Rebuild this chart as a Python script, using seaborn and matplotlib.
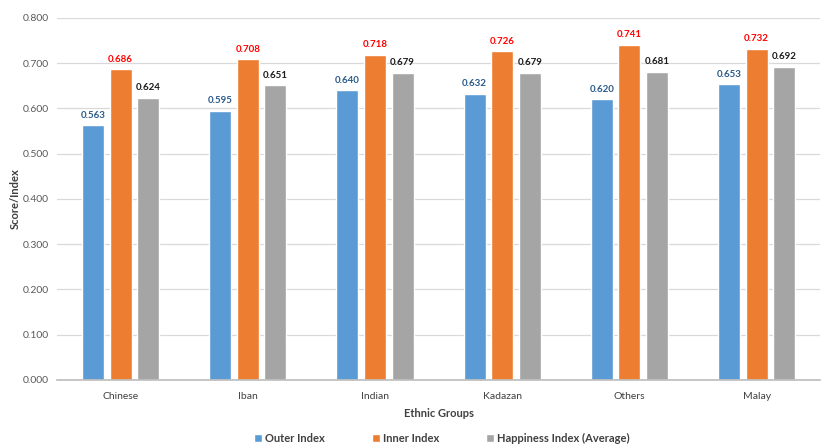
import matplotlib
matplotlib.use("Agg")
import matplotlib.pyplot as plt
import seaborn as sns
import pandas as pd

groups = ["Chinese", "Iban", "Indian", "Kadazan", "Others", "Malay"]
outer = [0.563, 0.595, 0.640, 0.632, 0.620, 0.653]
inner = [0.686, 0.708, 0.718, 0.726, 0.741, 0.732]
happy = [0.624, 0.651, 0.679, 0.679, 0.681, 0.692]
series = ["Outer Index", "Inner Index", "Happiness Index (Average)"]
colors = ["#5B9BD5", "#ED7D31", "#A5A5A5"]
label_colors = ["#2A5A8A", "#FF0000", "#1A1A1A"]
yticks = [0.0, 0.1, 0.2, 0.3, 0.4, 0.5, 0.6, 0.7, 0.8]

rows = []
for s, vals in zip(series, [outer, inner, happy]):
    for g, v in zip(groups, vals):
        rows.append({"Ethnic Groups": g, "Series": s, "Value": v})
df = pd.DataFrame(rows)

sns.set_theme(style="white")
plt.rcParams["font.family"] = ["Lato", "DejaVu Sans"]

fig = plt.figure(figsize=(8.26, 4.46), dpi=100)
ax = fig.add_axes([0.069, 0.148, 0.924, 0.812])
sns.barplot(data=df, x="Ethnic Groups", y="Value", hue="Series",
            palette=colors, width=0.65, gap=0.2, ax=ax, legend=True,
            saturation=1)

for cont, lc in zip(ax.containers, label_colors):
    ax.bar_label(cont, fmt="%.3f", padding=4, fontsize=7, fontweight="bold", color=lc)

ax.set_ylim(0, 0.8)
ax.set_yticks(yticks)
ax.set_yticklabels([f"{t:.3f}" for t in yticks], fontsize=7.5, color="#595959")
ax.tick_params(axis="x", labelsize=7.5, labelcolor="#404040", length=0, pad=9)
ax.tick_params(axis="y", length=0, pad=6)
ax.yaxis.grid(True, color="#D9D9D9", linewidth=0.9)
ax.set_axisbelow(True)
for sp in ["top", "right", "left"]:
    ax.spines[sp].set_visible(False)
ax.spines["bottom"].set_color("#BFBFBF")
ax.set_xlim(-0.5, 5.5)
ax.set_xlabel("Ethnic Groups", fontsize=8, fontweight="bold", color="#404040", labelpad=5)
ax.set_ylabel("Score/Index", fontsize=8, fontweight="bold", color="#404040")
ax.yaxis.set_label_coords(-0.047, 0.5)

handles, labels = ax.get_legend_handles_labels()
ax.legend_.remove()
fig.legend(handles, labels, loc="lower center", bbox_to_anchor=(0.535, -0.018), ncol=3,
           frameon=False, handlelength=0.7, handleheight=0.7,
           columnspacing=4.2, handletextpad=0.3, prop={"weight": "bold", "size": 8})
for t in fig.legends[0].get_texts():
    t.set_color("#404040")

fig.savefig("out.png", dpi=100)
